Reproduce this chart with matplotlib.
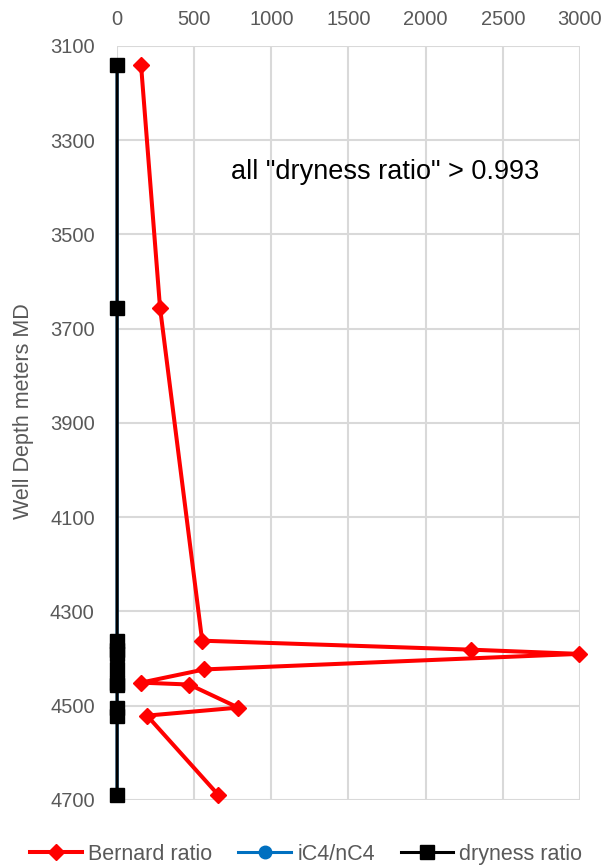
"""
Gas ratio depth profile: Bernard ratio, iC4/nC4 and dryness ratio vs well depth.
"""

import matplotlib
import matplotlib.pyplot as plt

matplotlib.use("Agg")

plt.rcParams["font.family"] = ["Liberation Sans", "DejaVu Sans"]

# Sample depths (m MD) and ratios
depth = [3140, 3655, 4362, 4381, 4390, 4423, 4451, 4455, 4504, 4521, 4689]
bernard = [156, 279, 552, 2291, 2995, 565, 156, 468, 786, 195, 656]
ic4_nc4 = [1.1, 1.0, 0.9, 1.2, 1.0, 1.1, 0.9, 1.0, 1.2, 1.1, 1.0]
dryness = [0.996, 0.995, 0.994, 0.995, 0.996, 0.994, 0.995, 0.993, 0.994, 0.995, 0.996]

x_ticks = [0, 500, 1000, 1500, 2000, 2500, 3000]
y_ticks = [3100, 3300, 3500, 3700, 3900, 4100, 4300, 4500, 4700]

TEXT = "#595959"
GRID = "#d9d9d9"

fig = plt.figure(figsize=(6.06, 8.67), dpi=100)
ax = fig.add_axes([0.193, 0.0773, 0.764, 0.8697])

ax.plot(bernard, depth, color="#ff0000", lw=2.9, marker="D", ms=8.5,
        label="Bernard ratio", zorder=3, clip_on=False)
ax.plot(ic4_nc4, depth, color="#0070c0", lw=2.2, marker="o", ms=9,
        label="iC4/nC4", zorder=4, clip_on=False)
ax.plot(dryness, depth, color="black", lw=2.2, marker="s", ms=10,
        label="dryness ratio", zorder=5, clip_on=False)

ax.set_xlim(0, 3000)
ax.set_ylim(4700, 3100)
ax.set_xticks(x_ticks)
ax.set_yticks(y_ticks)
ax.xaxis.tick_top()
ax.tick_params(length=0, labelsize=14.5, labelcolor=TEXT)
ax.tick_params(axis="y", pad=16)
ax.tick_params(axis="x", pad=12)
ax.grid(True, color=GRID, lw=1.5, zorder=0)
ax.set_axisbelow(True)
for s in ax.spines.values():
    s.set_visible(False)

ax.set_ylabel("Well Depth meters MD", fontsize=15.5, color=TEXT)
ax.yaxis.set_label_coords(-0.18, 0.516)

ax.text(1736, 3367, 'all "dryness ratio" > 0.993', fontsize=19.5,
        color="black", ha="center", va="center")

fig.legend(loc="lower center", bbox_to_anchor=(0.505, -0.02), ncol=3,
           frameon=False, fontsize=15.5, labelcolor=TEXT, handlelength=2.45,
           handletextpad=0.28, columnspacing=1.2)

fig.savefig("out.png", dpi=100)
